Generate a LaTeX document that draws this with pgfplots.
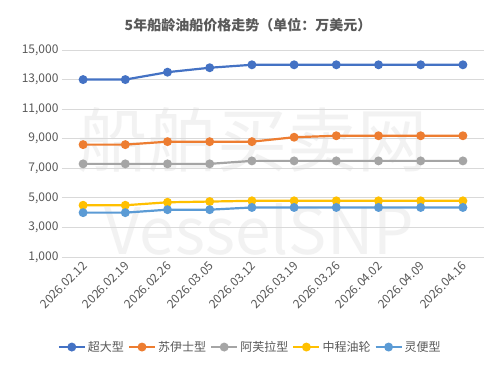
\documentclass[border=0pt]{standalone}
\usepackage{pgfplots}
\pgfplotsset{compat=1.18}
\usepackage{fontspec}
\setmainfont{Noto Sans CJK SC}
\definecolor{c1}{HTML}{4472C4}
\definecolor{c2}{HTML}{ED7D31}
\definecolor{c3}{HTML}{A5A5A5}
\definecolor{c4}{HTML}{FFC000}
\definecolor{c5}{HTML}{5B9BD5}
\definecolor{txt}{HTML}{595959}
\definecolor{grd}{HTML}{D9D9D9}
\begin{document}
\begin{tikzpicture}[x=1pt,y=1pt]
\useasboundingbox (0,0) rectangle (498,367);
\fill[white] (0,0) rectangle (498,367);
\node[font=\fontsize{70}{70}\selectfont, text=black!5] at (252,227) {船舶买卖网};
\node[font=\fontsize{64}{64}\selectfont, text=black!5] at (259,138) {VesselSNP};
\node[font=\bfseries\fontsize{14}{16}\selectfont, text=txt] at (248,342) {5年船龄油船价格走势（单位：万美元）};
\begin{axis}[
  at={(62pt,110pt)}, anchor=south west,
  scale only axis, width=422pt, height=207pt,
  xmin=-0.5, xmax=9.5, ymin=1000, ymax=15000,
  ytick={1000,3000,...,15000},
  xtick={0,...,9},
  xticklabels={2026.02.12,2026.02.19,2026.02.26,2026.03.05,2026.03.12,2026.03.19,2026.03.26,2026.04.02,2026.04.09,2026.04.16},
  xticklabel style={rotate=45, anchor=north east, font=\fontsize{12}{14}\selectfont, text=txt, yshift=2pt},
  yticklabel style={font=\fontsize{12}{14}\selectfont, text=txt},
  /pgf/number format/assume math mode=true,
  /pgf/number format/1000 sep={,},
  scaled y ticks=false,
  ymajorgrids, grid style={grd, line width=0.75pt},
  axis line style={draw=none},
  major tick length=0pt,
  tick style={draw=none},
  every axis plot/.append style={line width=2.2pt, mark=*, mark size=3.3pt},
  legend columns=5,
  legend style={at={(axis description cs:0.446,-0.435)}, anchor=center, draw=none, font=\fontsize{12}{14}\selectfont, text=txt, /tikz/every even column/.append style={column sep=2pt}},
  legend image code/.code={\draw[mark repeat=2,mark phase=2,#1] plot coordinates {(0pt,0pt)(13pt,0pt)(26pt,0pt)};},
]
\addplot[c1, mark options={fill=c1}] coordinates {(0,13000)(1,13000)(2,13500)(3,13800)(4,14000)(5,14000)(6,14000)(7,14000)(8,14000)(9,14000)};
\addlegendentry{超大型}
\addplot[c2, mark options={fill=c2}] coordinates {(0,8600)(1,8600)(2,8800)(3,8800)(4,8800)(5,9100)(6,9200)(7,9200)(8,9200)(9,9200)};
\addlegendentry{苏伊士型}
\addplot[c3, mark options={fill=c3}] coordinates {(0,7300)(1,7300)(2,7300)(3,7300)(4,7500)(5,7500)(6,7500)(7,7500)(8,7500)(9,7500)};
\addlegendentry{阿芙拉型}
\addplot[c4, mark options={fill=c4}] coordinates {(0,4500)(1,4500)(2,4700)(3,4750)(4,4800)(5,4800)(6,4800)(7,4800)(8,4800)(9,4800)};
\addlegendentry{中程油轮}
\addplot[c5, mark options={fill=c5}] coordinates {(0,4000)(1,4000)(2,4200)(3,4200)(4,4350)(5,4350)(6,4350)(7,4350)(8,4350)(9,4350)};
\addlegendentry{灵便型}
\end{axis}
\end{tikzpicture}
\end{document}
